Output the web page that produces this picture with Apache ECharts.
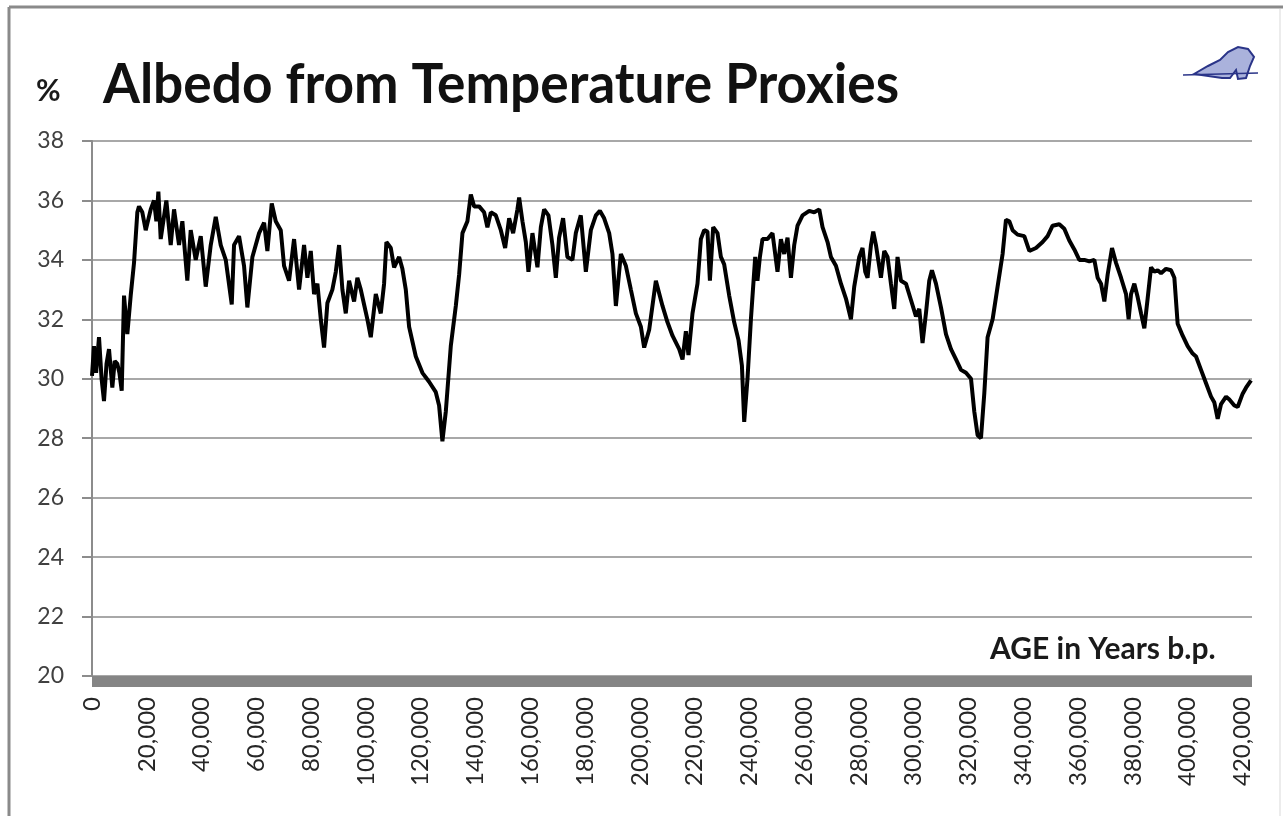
<!DOCTYPE html>
<html>
<head>
	<title>Albedo from Temperature Proxies</title>
	<meta charset="utf-8" />
	<script src="https://cdn.jsdelivr.net/npm/echarts@6/dist/echarts.min.js"></script>
	<style>
		html, body { margin: 0; padding: 0; background: #fff; }
		#chart { width: 1283px; height: 816px; }
	</style>
</head>
<body>
<div id="chart"></div>
<script type="text/javascript">
	// age in years b.p.
	var ages = [
		0, 730, 1500, 2560, 3500, 4380, 5300, 6210, 7420, 8300, 9250, 10000, 10850, 11690, 12900, 14130, 15340, 16550, 17160, 18370,
		19610, 21440, 22640, 23500, 24230, 25090, 27140, 28740, 29950, 31770, 32990, 34800, 36040, 37870, 39700, 41520, 43350, 45180, 47000, 48830,
		51020, 51860, 53680, 55510, 56720, 58560, 61000, 62830, 64030, 65620, 67080, 68910, 70120, 71940, 73770, 75600, 77420, 78640, 79870, 81070,
		82290, 83530, 84720, 85940, 87760, 89010, 90200, 91420, 92650, 93860, 95680, 96890, 98130, 99330, 100540, 101780, 103610, 105430, 106640, 107480,
		109090, 110290, 112120, 113320, 114560, 115770, 118220, 120630, 123070, 125520, 126720, 127930, 129170, 130990, 132820, 134030, 135250, 137060, 138300, 139510,
		141330, 143160, 144360, 145600, 147430, 149260, 150830, 152290, 153750, 155320, 155940, 157150, 158390, 159340, 160800, 162630, 163870, 165070, 166640, 168100,
		169340, 170530, 171990, 173560, 175390, 176630, 178450, 180300, 182120, 183950, 185410, 186980, 188810, 190010, 191260, 193080, 194910, 196730, 198560, 200390,
		201590, 203420, 205860, 208280, 210110, 211930, 214380, 215590, 216820, 217760, 219230, 221060, 222290, 223500, 224700, 225590, 226790, 228360, 229600, 230800,
		232630, 234460, 236030, 237270, 238110, 239310, 240560, 242130, 242950, 243840, 244790, 246620, 248440, 250270, 251510, 252720, 253930, 255170, 256370, 257580,
		259410, 261860, 263680, 265510, 266710, 268540, 269770, 271600, 273430, 275250, 277080, 278280, 280110, 281310, 282300, 283150, 284390, 285220, 286210, 288030,
		289240, 290450, 291690, 292890, 294090, 295340, 297160, 298990, 300820, 302020, 303220, 304460, 305670, 306650, 308120, 309950, 311770, 313600, 315430, 317250,
		319080, 320910, 322110, 323320, 324550, 325760, 326970, 328800, 330620, 332450, 333680, 334890, 336090, 337920, 340370, 342200, 344640, 347050, 348880, 350700,
		353150, 354970, 356800, 358630, 360460, 362280, 364110, 365940, 367140, 368380, 369590, 370790, 372390, 373860, 375680, 377510, 378460, 379340, 380540, 381750,
		382990, 384190, 385400, 386640, 387840, 389050, 390290, 392110, 393940, 395150, 396360, 398190, 400010, 401840, 403070, 404890, 406720, 408550, 409760, 410970,
		412200, 414030, 415230, 417060, 418270, 420090, 421320, 423150
	];
	// albedo in %
	var albedo = [
		30.1, 31.1, 30.2, 31.4, 30.0, 29.25, 30.5, 31.0, 29.7, 30.6, 30.5, 30.2, 29.6, 32.8, 31.5, 32.8, 33.9, 35.6, 35.8, 35.6,
		35.0, 35.7, 36.0, 35.3, 36.3, 34.7, 36.0, 34.5, 35.7, 34.5, 35.3, 33.3, 35.0, 34.0, 34.8, 33.1, 34.5, 35.45, 34.5, 34.0,
		32.5, 34.5, 34.8, 33.8, 32.4, 34.1, 34.9, 35.25, 34.3, 35.9, 35.3, 35.0, 33.8, 33.3, 34.7, 33.0, 34.5, 33.4, 34.3, 32.85,
		33.2, 32.0, 31.05, 32.55, 33.0, 33.6, 34.5, 33.0, 32.2, 33.3, 32.6, 33.4, 33.0, 32.5, 32.0, 31.4, 32.85, 32.2, 33.2, 34.6,
		34.4, 33.75, 34.1, 33.7, 33.0, 31.75, 30.75, 30.2, 29.9, 29.55, 29.1, 27.9, 28.9, 31.1, 32.45, 33.5, 34.9, 35.3, 36.2, 35.8,
		35.8, 35.6, 35.1, 35.6, 35.5, 35.0, 34.4, 35.4, 34.9, 35.7, 36.1, 35.3, 34.6, 33.6, 34.9, 33.75, 35.1, 35.7, 35.5, 34.5,
		33.4, 34.75, 35.4, 34.1, 34.0, 34.9, 35.5, 33.6, 35.0, 35.5, 35.65, 35.4, 34.9, 34.2, 32.45, 34.2, 33.8, 33.0, 32.2, 31.75,
		31.05, 31.65, 33.3, 32.45, 31.9, 31.45, 31.0, 30.65, 31.6, 30.8, 32.2, 33.2, 34.7, 35.0, 34.95, 33.3, 35.1, 34.9, 34.1, 33.85,
		32.8, 31.9, 31.3, 30.45, 28.55, 30.0, 32.0, 34.1, 33.3, 34.1, 34.7, 34.7, 34.9, 33.6, 34.7, 34.2, 34.75, 33.4, 34.5, 35.15,
		35.5, 35.65, 35.6, 35.7, 35.1, 34.6, 34.1, 33.8, 33.2, 32.7, 32.0, 33.1, 34.1, 34.4, 33.6, 33.4, 34.5, 34.95, 34.5, 33.4,
		34.3, 34.1, 33.2, 32.35, 34.1, 33.3, 33.2, 32.65, 32.1, 32.35, 31.2, 32.2, 33.3, 33.65, 33.2, 32.4, 31.5, 31.0, 30.65, 30.3,
		30.2, 30.0, 28.9, 28.1, 28.0, 29.5, 31.4, 32.0, 33.1, 34.2, 35.35, 35.3, 35.0, 34.85, 34.8, 34.3, 34.4, 34.6, 34.8, 35.15,
		35.2, 35.05, 34.65, 34.35, 34.0, 34.0, 33.95, 34.0, 33.4, 33.2, 32.6, 33.5, 34.4, 33.9, 33.4, 32.85, 32.0, 32.85, 33.2, 32.75,
		32.2, 31.7, 32.7, 33.75, 33.6, 33.65, 33.55, 33.7, 33.65, 33.4, 31.85, 31.45, 31.1, 30.85, 30.75, 30.3, 29.85, 29.4, 29.2, 28.65,
		29.15, 29.4, 29.3, 29.1, 29.05, 29.5, 29.7, 29.95
	];
	var yTicks = [20, 38, 2];       // min, max, step
	var xTicks = [0, 423500, 20000];

	var points = [];
	for (var i = 0; i < ages.length; i++) {
		points.push([ages[i], albedo[i]]);
	}

	var myChart = echarts.init(document.getElementById('chart'));
	var option = {
		backgroundColor: '#ffffff',
		animation: false,
		grid: {
			left: 92,
			right: 31,
			top: 141,
			bottom: 140
		},
		xAxis: {
			type: 'value',
			min: xTicks[0],
			max: xTicks[1],
			interval: xTicks[2],
			offset: 5,
			axisLine: { lineStyle: { color: '#858585', width: 11, cap: 'butt' } },
			axisTick: { show: false },
			splitLine: { show: false },
			axisLabel: {
				rotate: 90,
				margin: 16,
				showMaxLabel: false,
				color: '#262626',
				fontFamily: 'Lato',
				fontSize: 24,
				formatter: function (v) { return v.toLocaleString('en-US'); }
			}
		},
		yAxis: {
			type: 'value',
			min: yTicks[0],
			max: yTicks[1],
			interval: yTicks[2],
			axisLine: { show: true, lineStyle: { color: '#8c8c8c', width: 2 } },
			axisTick: { show: true, length: 10, lineStyle: { color: '#8c8c8c', width: 2 } },
			splitLine: { lineStyle: { color: '#a8a8a8', width: 2 } },
			axisLabel: {
				margin: 28,
				color: '#404040',
				fontFamily: 'Lato',
				fontSize: 23
			}
		},
		series: [{
			type: 'line',
			data: points,
			showSymbol: false,
			lineStyle: { color: '#000000', width: 4 }
		}],
		graphic: [
			// frame
			{ type: 'line', shape: { x1: 9, y1: 7, x2: 9, y2: 816 }, style: { stroke: '#8a8a8a', lineWidth: 3 } },
			{ type: 'line', shape: { x1: 9, y1: 7, x2: 1283, y2: 7 }, style: { stroke: '#8a8a8a', lineWidth: 3 } },
			{ type: 'line', shape: { x1: 1280, y1: 9, x2: 1280, y2: 816 }, style: { stroke: '#ececec', lineWidth: 2 } },
			{
				type: 'text', x: 36, y: 76,
				style: { text: '%', fill: '#1a1a1a', font: 'bold 30px Lato' }
			},
			{
				type: 'text', x: 103, y: 57, scaleX: 0.95,
				style: { text: 'Albedo from Temperature Proxies', fill: '#111111', font: 'bold 56px Lato' }
			},
			{
				type: 'text', x: 990, y: 634,
				style: { text: 'AGE in Years b.p.', fill: '#1a1a1a', font: 'bold 30px Lato' }
			},
			// little logo top right
			{
				type: 'polygon',
				shape: { points: [[1194, 74], [1208, 66], [1220, 60], [1228, 52], [1238, 47], [1248, 49], [1254, 57], [1250, 66], [1246, 78], [1238, 79], [1236, 70], [1230, 78], [1222, 78]] },
				style: { fill: '#aab2dc', stroke: '#2a3488', lineWidth: 2 }
			},
			{ type: 'line', shape: { x1: 1183, y1: 75, x2: 1258, y2: 73 }, style: { stroke: '#2a3488', lineWidth: 1.5 } }
		]
	};
	myChart.setOption(option);
</script>
</body>
</html>
